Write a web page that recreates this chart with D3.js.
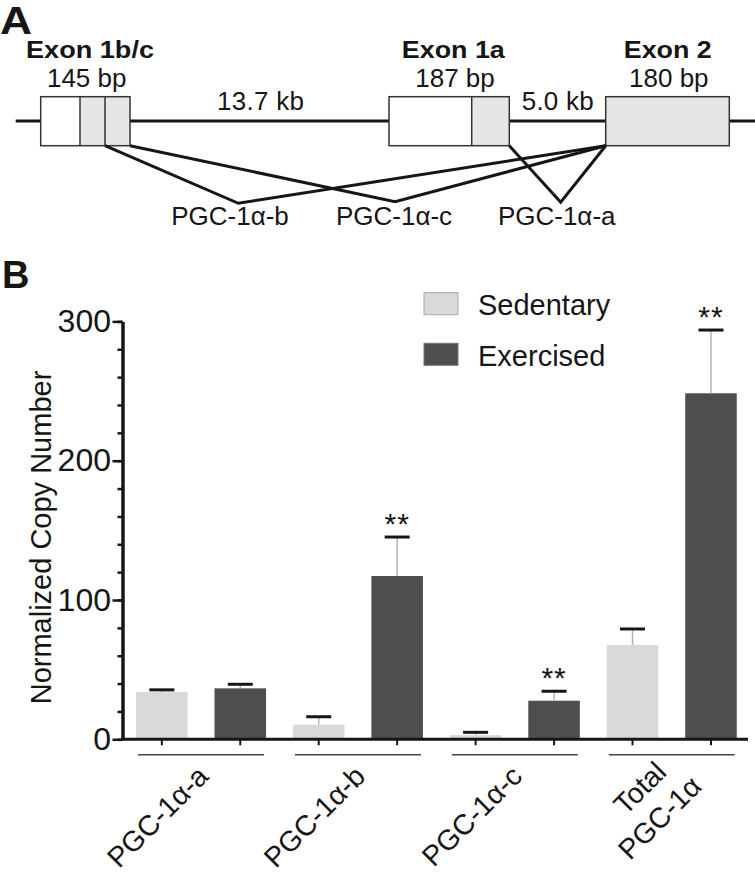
<!DOCTYPE html>
<html>
<head>
<meta charset="utf-8">
<script src="https://cdn.jsdelivr.net/npm/d3@7"></script>
<style>
  html, body { margin: 0; padding: 0; background: #fff; }
  svg { display: block; font-family: "Liberation Sans", Arial, Helvetica, sans-serif; }
</style>
</head>
<body>
<svg id="chart" width="755" height="873"></svg>
<script>
// ---------- Data ----------
const categories = ["PGC-1α-a", "PGC-1α-b", "PGC-1α-c", "Total\nPGC-1α"];
const seriesNames = ["Sedentary", "Exercised"];
const sedentary = [34, 10.5, 3, 67.7];
const sedentaryErr = [1.5, 5.7, 2, 11.5];
const exercised = [36.6, 117.2, 27.7, 248.4];
const exercisedErr = [2.9, 28, 6.8, 45.4];
const significance = ["", "**", "**", "**"];
const yMajorTicks = [0, 100, 200, 300];
const yMinorStep = 20;
const yLabel = "Normalized Copy Number";

// Panel A (gene structure) labels
const exonNames = ["Exon 1b/c", "Exon 1a", "Exon 2"];
const exonSizes = ["145 bp", "187 bp", "180 bp"];
const intronSizes = ["13.7 kb", "5.0 kb"];
const isoformNames = ["PGC-1α-b", "PGC-1α-c", "PGC-1α-a"];

const colors = { Sedentary: "#d9d9d9", Exercised: "#504e4c" };
const ink = "#161616";

const svg = d3.select("#chart");

// ---------- Panel A ----------
const A = svg.append("g");
A.append("text").attr("x", 0).attr("y", 34).attr("font-size", 38).attr("font-weight", "bold")
  .attr("fill", ink).attr("textLength", 32).attr("lengthAdjust", "spacingAndGlyphs").text("A");

const lineY = 121, boxTop = 96.7, boxBot = 145.7;
A.append("line").attr("x1", 15.7).attr("x2", 755).attr("y1", lineY).attr("y2", lineY)
  .attr("stroke", ink).attr("stroke-width", 3);

const exonGeom = [
  { x0: 40.7, x1: 130, dividers: [80, 105], grayFrom: 80 },
  { x0: 389, x1: 509.3, dividers: [471.7], grayFrom: 471.7 },
  { x0: 605.7, x1: 729.3, dividers: [], grayFrom: 605.7 }
];
exonGeom.forEach(e => {
  A.append("rect").attr("x", e.x0).attr("y", boxTop).attr("width", e.x1 - e.x0).attr("height", boxBot - boxTop)
    .attr("fill", "#fff");
  A.append("rect").attr("x", e.grayFrom).attr("y", boxTop).attr("width", e.x1 - e.grayFrom).attr("height", boxBot - boxTop)
    .attr("fill", "#e6e6e6");
  e.dividers.forEach(d => A.append("line").attr("x1", d).attr("x2", d).attr("y1", boxTop).attr("y2", boxBot)
    .attr("stroke", "#333").attr("stroke-width", 1.5));
  A.append("rect").attr("x", e.x0).attr("y", boxTop).attr("width", e.x1 - e.x0).attr("height", boxBot - boxTop)
    .attr("fill", "none").attr("stroke", "#333").attr("stroke-width", 1.5);
});

const exonNameGeom = [{ cx: 90, w: 128 }, { cx: 453.3, w: 103 }, { cx: 667.8, w: 88 }];
exonNames.forEach((n, i) => {
  A.append("text").attr("x", exonNameGeom[i].cx - exonNameGeom[i].w / 2).attr("y", 57.5)
    .attr("font-size", 23).attr("font-weight", "bold").attr("fill", ink)
    .attr("textLength", exonNameGeom[i].w).attr("lengthAdjust", "spacingAndGlyphs").text(n);
});
const exonSizeX = [86.7, 455, 668.8];
exonSizes.forEach((s, i) => {
  A.append("text").attr("x", exonSizeX[i]).attr("y", 87).attr("text-anchor", "middle")
    .attr("font-size", 26).attr("fill", ink).text(s);
});
const intronGeom = [{ x: 217, w: 87 }, { x: 521.7, w: 72 }];
intronSizes.forEach((s, i) => {
  A.append("text").attr("x", intronGeom[i].x).attr("y", 110)
    .attr("font-size", 26).attr("fill", ink)
    .attr("textLength", intronGeom[i].w).attr("lengthAdjust", "spacing").text(s);
});

const spliceGeom = [
  [[105, boxBot], [238.3, 203.3], [605.7, boxBot]],
  [[130, boxBot], [395, 201.7], [605.7, boxBot]],
  [[509.3, boxBot], [560.7, 202.3], [605.7, boxBot]]
];
const lineGen = d3.line();
spliceGeom.forEach(p => A.append("path").attr("d", lineGen(p)).attr("fill", "none")
  .attr("stroke", ink).attr("stroke-width", 3).attr("stroke-linejoin", "miter"));
const isoX = [230, 394, 556.7];
isoformNames.forEach((n, i) => {
  A.append("text").attr("x", isoX[i]).attr("y", 225).attr("text-anchor", "middle")
    .attr("font-size", 26).attr("fill", ink).text(n);
});

// ---------- Panel B ----------
svg.append("text").attr("x", 2).attr("y", 288).attr("font-size", 38).attr("font-weight", "bold")
  .attr("fill", ink).text("B");

const axisX = 122.5, y0 = 739.3, yTop = 321.4, xRight = 748;
const y = d3.scaleLinear().domain([0, 300]).range([y0, yTop]);

const x0 = d3.scaleBand().domain(categories).range([122.6, 750.2]).padding(0);
const x1 = d3.scaleBand().domain(seriesNames).range([0, x0.bandwidth()])
  .paddingInner(0.343).paddingOuter(0.1715);

const B = svg.append("g");

const rows = categories.map((c, i) => ({
  cat: c,
  vals: [
    { s: "Sedentary", v: sedentary[i], e: sedentaryErr[i], sig: "" },
    { s: "Exercised", v: exercised[i], e: exercisedErr[i], sig: significance[i] }
  ]
}));

rows.forEach(r => {
  r.vals.forEach(d => {
    const bx = x0(r.cat) + x1(d.s);
    B.append("rect").attr("x", bx).attr("y", y(d.v)).attr("width", x1.bandwidth())
      .attr("height", y(0) - y(d.v)).attr("fill", colors[d.s]);
  });
});

rows.forEach(r => {
  r.vals.forEach(d => {
    const cx = x0(r.cat) + x1(d.s) + x1.bandwidth() / 2;
    const top = y(d.v + d.e);
    B.append("line").attr("x1", cx).attr("x2", cx).attr("y1", y(d.v)).attr("y2", top)
      .attr("stroke", "#b5b5b5").attr("stroke-width", 1.5);
    B.append("line").attr("x1", cx - 12.5).attr("x2", cx + 12.5).attr("y1", top).attr("y2", top)
      .attr("stroke", ink).attr("stroke-width", 3);
    if (d.sig) {
      B.append("text").attr("x", cx).attr("y", top - 3).attr("text-anchor", "middle")
        .attr("font-size", 30).attr("letter-spacing", 1).attr("fill", ink).text(d.sig);
    }
  });
});

const yAxisMinor = d3.axisLeft(y).tickValues(d3.range(0, 301, yMinorStep)).tickSize(5).tickSizeOuter(0).tickFormat("");
const yAxisMajor = d3.axisLeft(y).tickValues(yMajorTicks).tickSize(10).tickSizeOuter(0).tickPadding(1.5);
const gMin = B.append("g").attr("transform", `translate(${axisX},0)`).call(yAxisMinor);
const gMaj = B.append("g").attr("transform", `translate(${axisX},0)`).call(yAxisMajor);
[gMin, gMaj].forEach(g => {
  g.select(".domain").attr("stroke", ink).attr("stroke-width", 3);
  g.selectAll(".tick line").attr("stroke", ink).attr("stroke-width", 2.5);
});
gMaj.selectAll(".tick text").attr("font-size", 32).attr("fill", ink)
  .attr("font-family", "'Liberation Sans', Arial, sans-serif");

B.append("line").attr("x1", axisX - 1.5).attr("x2", xRight).attr("y1", y0).attr("y2", y0)
  .attr("stroke", ink).attr("stroke-width", 3);
rows.forEach(r => r.vals.forEach(d => {
  const cx = x0(r.cat) + x1(d.s) + x1.bandwidth() / 2;
  B.append("line").attr("x1", cx).attr("x2", cx).attr("y1", y0).attr("y2", y0 + 6)
    .attr("stroke", ink).attr("stroke-width", 2);
}));
categories.forEach(c => {
  const a = x0(c) + x1(seriesNames[0]) + 2;
  const b = x0(c) + x1(seriesNames[1]) + x1.bandwidth() - 2;
  B.append("line").attr("x1", a).attr("x2", b).attr("y1", 754.7).attr("y2", 754.7)
    .attr("stroke", "#444").attr("stroke-width", 1.5);
});

categories.forEach(c => {
  const gc = x0(c) + x0.bandwidth() / 2;
  const lines = c.split("\n");
  if (lines.length === 1) {
    B.append("text").attr("transform", `translate(${gc + 9},778) rotate(-45)`)
      .attr("text-anchor", "end").attr("font-size", 28.5).attr("fill", ink).text(c);
  } else {
    const t = B.append("text").attr("transform", `translate(${gc - 25},795) rotate(-45)`)
      .attr("text-anchor", "middle").attr("font-size", 28.5).attr("fill", ink);
    lines.forEach((l, k) => t.append("tspan").attr("x", k === 0 ? 0 : -7).attr("dy", k === 0 ? 0 : 35).text(l));
  }
});

B.append("text").attr("transform", `translate(51,537.5) rotate(-90)`)
  .attr("text-anchor", "middle").attr("font-size", 29).attr("fill", ink).text(yLabel);

const legY = [292.7, 343.3];
seriesNames.forEach((s, i) => {
  B.append("rect").attr("x", 424).attr("y", legY[i]).attr("width", 34).attr("height", 22)
    .attr("fill", colors[s]).attr("stroke", i === 0 ? "#aaa" : "#777").attr("stroke-width", 1);
  B.append("text").attr("x", 478).attr("y", legY[i] + 22.5).attr("font-size", 29)
    .attr("fill", ink).text(s);
});
</script>
</body>
</html>
